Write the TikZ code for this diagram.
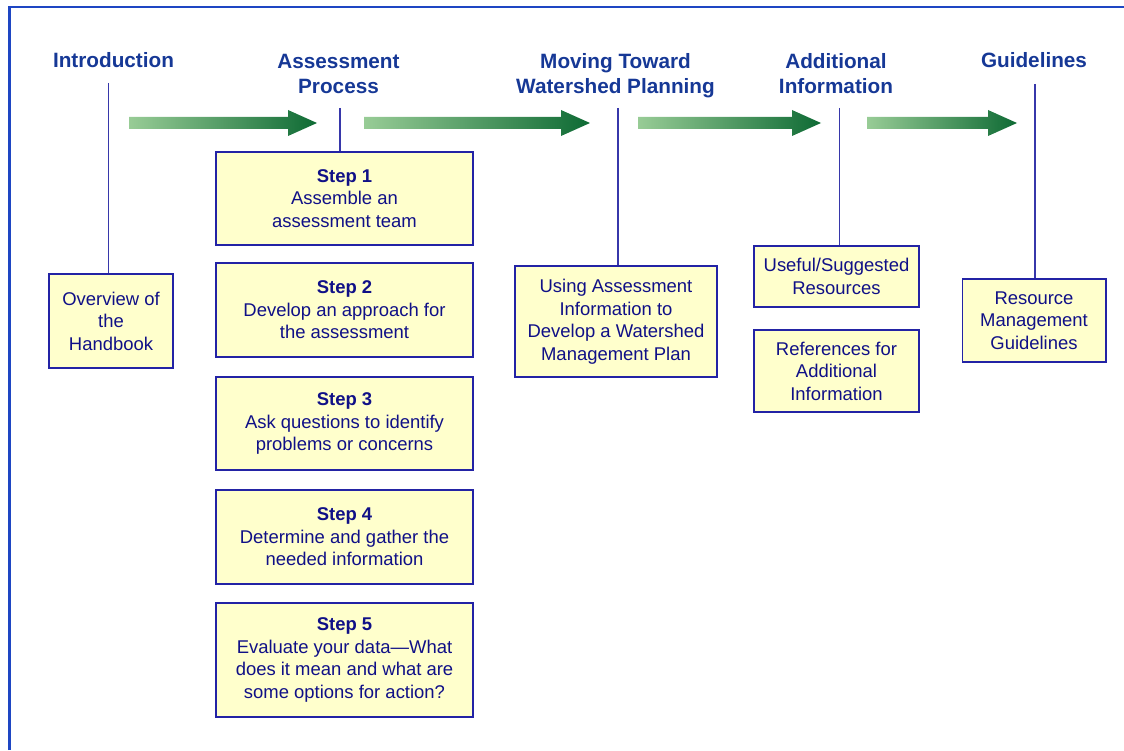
\documentclass[tikz,border=0pt]{standalone}
\usepackage{fontspec}
\setmainfont{Liberation Sans}
\usepackage{tikz}
\usetikzlibrary{positioning,calc}
\definecolor{HeadBlue}{RGB}{22,56,150}
\definecolor{BoxText}{RGB}{16,16,135}
\definecolor{BoxLine}{RGB}{35,35,165}
\definecolor{BoxFill}{RGB}{255,255,204}
\definecolor{LinkBlue}{RGB}{55,55,170}
\definecolor{FrameBlue}{RGB}{30,70,195}
\definecolor{FlowLight}{RGB}{152,204,150}
\definecolor{FlowDark}{RGB}{14,106,52}

\begin{document}
\begin{tikzpicture}[
  phase/.style={
    anchor=base,
    align=center,
    inner sep=0pt,
    text=HeadBlue,
    font=\fontsize{11.8}{14.7}\selectfont\bfseries
  },
  box/.style={
    draw=BoxLine,
    fill=BoxFill,
    line width=0.85pt,
    align=center,
    inner sep=2pt,
    text=BoxText,
    font=\fontsize{10.5}{12.8}\selectfont
  },
  stepbox/.style={box, minimum width=5.14cm},
  link/.style={draw=LinkBlue, line width=0.75pt},
  flow/.style={left color=FlowLight, right color=FlowDark}
]
\useasboundingbox (0,0) rectangle (22.48,15);

% outer frame (only top and left edges fall inside the page)
\draw[FrameBlue, line width=1.4pt] (0.19,0) -- (0.19,14.86) -- (22.48,14.86);

% column headings (base = baseline of the last line)
\node[phase] (intro) at (2.27,13.64) {Introduction};
\node[phase] (assess) at (6.77,13.12) {Assessment\\Process};
\node[phase] (moving) at (12.31,13.12) {Moving Toward\\Watershed Planning};
\node[phase] (addl) at (16.72,13.12) {Additional\\Information};
\node[phase] (guide) at (20.68,13.64) {Guidelines};

% green flow arrows between the columns
\foreach \xs/\xe in {2.58/6.34, 7.28/11.80, 12.76/16.42, 17.34/20.34}
  \shade[flow] (\xs,12.42) -- (\xe-0.58,12.42) -- (\xe-0.58,12.28)
    -- (\xe,12.54) -- (\xe-0.58,12.80) -- (\xe-0.58,12.66)
    -- (\xs,12.66) -- cycle;

% boxes
\node[box, minimum width=2.48cm, minimum height=1.88cm] (overview) at (2.22,8.58)
  {Overview of\\the\\Handbook};

\node[stepbox, minimum height=1.86cm] (step1) at (6.89,11.03)
  {\textbf{Step 1}\\Assemble an\\assessment team};
\node[stepbox, minimum height=1.88cm] (step2) at (6.89,8.80)
  {\textbf{Step 2}\\Develop an approach for\\the assessment};
\node[stepbox, minimum height=1.86cm] (step3) at (6.89,6.53)
  {\textbf{Step 3}\\Ask questions to identify\\problems or concerns};
\node[stepbox, minimum height=1.88cm] (step4) at (6.89,4.26)
  {\textbf{Step 4}\\Determine and gather the\\needed information};
\node[stepbox, minimum height=2.28cm] (step5) at (6.89,1.80)
  {\textbf{Step 5}\\Evaluate your data---What\\does it mean and what are\\some options for action?};

\node[box, minimum width=4.04cm, minimum height=2.22cm] (using) at (12.32,8.57)
  {Using Assessment\\Information to\\Develop a Watershed\\Management Plan};

\node[box, minimum width=3.30cm, minimum height=1.22cm] (useful) at (16.73,9.47)
  {Useful/Suggested\\Resources};
\node[box, minimum width=3.30cm, minimum height=1.64cm] (refs) at (16.73,7.58)
  {References for\\Additional\\Information};

\node[box, minimum width=2.87cm, minimum height=1.66cm] (resource) at (20.68,8.59)
  {Resource\\Management\\Guidelines};

% drop lines from the headings
\coordinate (introtop) at (2.17,13.34);
\coordinate (assesstop) at (6.80,12.84);
\coordinate (movingtop) at (12.36,12.84);
\coordinate (addltop) at (16.79,12.84);
\coordinate (guidetop) at (20.70,13.32);

\draw[link] (introtop) -- (introtop |- overview.north);
\draw[link] (assesstop) -- (assesstop |- step1.north);
\draw[link] (movingtop) -- (movingtop |- using.north);
\draw[link] (addltop) -- (addltop |- useful.north);
\draw[link] (guidetop) -- (guidetop |- resource.north);
\end{tikzpicture}
\end{document}
